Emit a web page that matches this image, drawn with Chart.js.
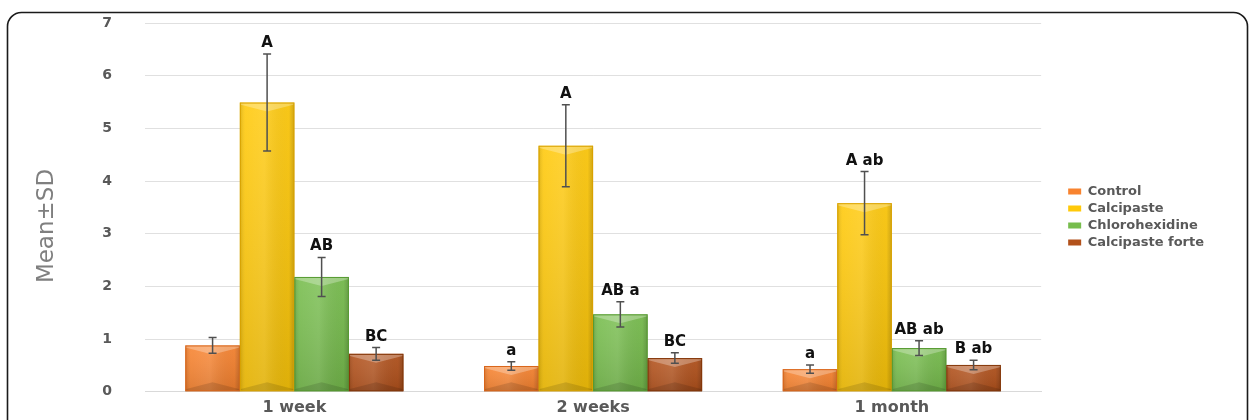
<!DOCTYPE html>
<html>
<head>
<meta charset="utf-8">
<script src="https://cdn.jsdelivr.net/npm/chart.js@4.4.1/dist/chart.umd.min.js"></script>
<style>
  html, body { margin: 0; padding: 0; background: #ffffff; }
  #wrap { width: 1251px; height: 420px; position: relative; }
</style>
</head>
<body>
<div id="wrap"><canvas id="c" width="1251" height="420"></canvas></div>
<script>
// ---- data ----
const categories = ["1 week", "2 weeks", "1 month"];
const seriesNames = ["Control", "Calcipaste", "Chlorohexidine", "Calcipaste forte"];

const controlMean = [0.88, 0.49, 0.43];
const controlSD = [0.15, 0.08, 0.08];
const controlLetters = ["", "a", "a"];

const calcipasteMean = [5.49, 4.67, 3.58];
const calcipasteSD = [0.92, 0.78, 0.60];
const calcipasteLetters = ["A", "A", "A ab"];

const chloroMean = [2.18, 1.47, 0.83];
const chloroSD = [0.37, 0.24, 0.14];
const chloroLetters = ["AB", "AB a", "AB ab"];

const forteMean = [0.72, 0.64, 0.51];
const forteSD = [0.12, 0.10, 0.09];
const forteLetters = ["BC", "BC", "B ab"];

const yTicks = [0, 1, 2, 3, 4, 5, 6, 7];
const yTitle = "Mean±SD";

// ---- styles ----
const colors = ["#F8832F", "#FFC90A", "#77BD4D", "#B2511B"];
const darkColors = ["#D9651A", "#D9A200", "#559A30", "#843709"];
const means = [controlMean, calcipasteMean, chloroMean, forteMean];
const sds = [controlSD, calcipasteSD, chloroSD, forteSD];
const letters = [controlLetters, calcipasteLetters, chloroLetters, forteLetters];

const FONT = "'DejaVu Sans', 'Liberation Sans', sans-serif";

const framePlugin = {
  id: 'frame',
  beforeDraw(chart) {
    const ctx = chart.ctx;
    ctx.save();
    ctx.fillStyle = '#ffffff';
    ctx.fillRect(0, 0, chart.width, chart.height);
    ctx.restore();
  },
  afterLayout(chart) {
    if (chart.legend) {
      chart.legend.left += 23;
      chart.legend.right += 23;
      chart.legend.top -= 6;
      chart.legend.bottom -= 6;
    }
  },
  afterDraw(chart) {
    const ctx = chart.ctx;
    ctx.save();
    ctx.translate(47, 226);
    ctx.rotate(-Math.PI / 2);
    ctx.fillStyle = '#7f7f7f';
    ctx.font = "23px " + FONT;
    ctx.textAlign = 'center';
    ctx.textBaseline = 'middle';
    ctx.fillText(yTitle, 0, 0);
    ctx.restore();
    ctx.save();
    ctx.strokeStyle = '#1a1a1a';
    ctx.lineWidth = 1.6;
    ctx.beginPath();
    ctx.roundRect(7.5, 12.5, 1240, 440, 14);
    ctx.stroke();
    ctx.restore();
  }
};

const bevelPlugin = {
  id: 'bevel',
  afterDatasetsDraw(chart) {
    const ctx = chart.ctx;
    chart.data.datasets.forEach((ds, di) => {
      const meta = chart.getDatasetMeta(di);
      meta.data.forEach((bar) => {
        const { x, y, base, width } = bar.getProps(['x', 'y', 'base', 'width'], true);
        const l = x - width / 2, r = x + width / 2, h = base - y;
        ctx.save();
        // horizontal shading
        const g = ctx.createLinearGradient(l, 0, r, 0);
        g.addColorStop(0, 'rgba(0,0,0,0.14)');
        g.addColorStop(0.1, 'rgba(255,255,255,0.06)');
        g.addColorStop(0.45, 'rgba(255,255,255,0.12)');
        g.addColorStop(0.9, 'rgba(0,0,0,0.03)');
        g.addColorStop(1, 'rgba(0,0,0,0.20)');
        ctx.fillStyle = g;
        ctx.fillRect(l, y, width, h);
        // vertical shading (darker toward base)
        const gv = ctx.createLinearGradient(0, y, 0, base);
        gv.addColorStop(0, 'rgba(255,255,255,0.06)');
        gv.addColorStop(1, 'rgba(0,0,0,0.10)');
        ctx.fillStyle = gv;
        ctx.fillRect(l, y, width, h);
        // top chevron (light)
        const bh = Math.min(9, h / 2);
        ctx.beginPath();
        ctx.moveTo(l, y);
        ctx.lineTo(r, y);
        ctx.lineTo(r, y + 2);
        ctx.lineTo(x, y + bh);
        ctx.lineTo(l, y + 2);
        ctx.closePath();
        ctx.fillStyle = 'rgba(255,255,255,0.28)';
        ctx.fill();
        // bottom chevron (dark)
        ctx.beginPath();
        ctx.moveTo(l, base);
        ctx.lineTo(r, base);
        ctx.lineTo(r, base - 2);
        ctx.lineTo(x, base - bh);
        ctx.lineTo(l, base - 2);
        ctx.closePath();
        ctx.fillStyle = 'rgba(0,0,0,0.12)';
        ctx.fill();
        // edges
        ctx.strokeStyle = darkColors[di];
        ctx.lineWidth = 1;
        ctx.strokeRect(l + 0.5, y + 0.5, width - 1, h - 1);
        ctx.restore();
      });
    });
  }
};

const errorPlugin = {
  id: 'errorBars',
  afterDatasetsDraw(chart) {
    const ctx = chart.ctx;
    const ys = chart.scales.y;
    chart.data.datasets.forEach((ds, di) => {
      const meta = chart.getDatasetMeta(di);
      meta.data.forEach((bar, i) => {
        const m = means[di][i], s = sds[di][i];
        const x = bar.x;
        const yHi = ys.getPixelForValue(m + s);
        const yLo = ys.getPixelForValue(m - s);
        ctx.save();
        ctx.strokeStyle = '#505050';
        ctx.lineWidth = 1.5;
        ctx.beginPath();
        ctx.moveTo(x, yHi); ctx.lineTo(x, yLo);
        ctx.moveTo(x - 4, yHi); ctx.lineTo(x + 4, yHi);
        ctx.moveTo(x - 4, yLo); ctx.lineTo(x + 4, yLo);
        ctx.stroke();
        const t = letters[di][i];
        if (t) {
          ctx.fillStyle = '#111111';
          ctx.font = "bold 15px " + FONT;
          ctx.textAlign = 'center';
          ctx.textBaseline = 'alphabetic';
          ctx.fillText(t, x, yHi - 7);
        }
        ctx.restore();
      });
    });
  }
};

new Chart(document.getElementById('c'), {
  type: 'bar',
  data: {
    labels: categories,
    datasets: seriesNames.map((name, i) => ({
      label: name,
      data: means[i],
      backgroundColor: colors[i],
      borderWidth: 0,
      categoryPercentage: 0.73,
      barPercentage: 1.0
    }))
  },
  options: {
    responsive: false,
    animation: false,
    devicePixelRatio: 1,
    layout: { padding: { left: 0, right: 60, top: 23, bottom: -3 } },
    plugins: {
      tooltip: { enabled: false },
      legend: {
        position: 'right',
        align: 'center',
        labels: {
          boxWidth: 13,
          boxHeight: 6,
          padding: 4,
          color: '#595959',
          font: { family: FONT, size: 13, weight: 'bold' }
        }
      }
    },
    scales: {
      x: {
        grid: { display: false, drawTicks: false },
        border: { display: true, color: '#d9d9d9', width: 1 },
        ticks: {
          color: '#595959',
          padding: 6,
          font: { family: FONT, size: 16, weight: 'bold' }
        }
      },
      y: {
        min: 0,
        max: 7,
        afterBuildTicks(scale) { scale.ticks = yTicks.map(v => ({ value: v })); },
        afterFit(scale) { scale.width = 145; },
        grid: { color: '#e0e0e0', lineWidth: 1, drawTicks: true, tickLength: 27, tickColor: 'rgba(0,0,0,0)' },
        border: { display: false },
        ticks: {
          color: '#595959',
          padding: 6,
          font: { family: FONT, size: 14, weight: 'bold' }
        },
        title: { display: false }
      }
    }
  },
  plugins: [framePlugin, bevelPlugin, errorPlugin]
});
</script>
</body>
</html>
